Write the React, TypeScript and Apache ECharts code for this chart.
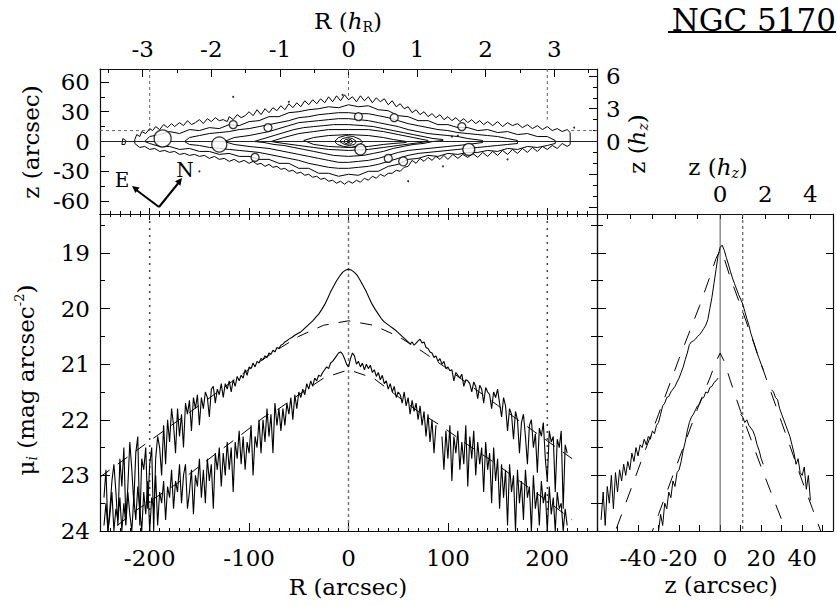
import React, { useEffect, useRef } from "react";
import * as echarts from "echarts";

const FONT = '"DejaVu Serif", serif';
const hR = 69; // arcsec per radial scale length
const hZ = 11; // arcsec per vertical scale height

// ---- tick labels ----
const rTickLabels = [-200, -100, 0, 100, 200];
const hrTickLabels = [-3, -2, -1, 0, 1, 2, 3];
const hrMinorTicks = [-3.5, -2.5, -1.5, -0.5, 0.5, 1.5, 2.5, 3.5];
const zTopLabels = [-60, -30, 0, 30, 60];
const zTopMinor = [-45, -15, 15, 45];
const hzRightMajor = [-6, -3, 0, 3, 6];
const hzRightLabels = [0, 3, 6];
const hzRightMinor = [-5, -4, -2, -1, 1, 2, 4, 5];
const muTickLabels = [19, 20, 21, 22, 23, 24];
const muHalfTicks = [18.5, 19.5, 20.5, 21.5, 22.5, 23.5];
const muAllTicks = [18.5, 19, 19.5, 20, 20.5, 21, 21.5, 22, 22.5, 23, 23.5, 24];
const zArcLabels = [-40, -20, 0, 20, 40];
const zArcTicks = [-50, -40, -30, -20, -10, 0, 10, 20, 30, 40, 50];
const hzBottomLabels = [0, 2, 4];
const hzBottomTicks = [-5, -4, -3, -2, -1, 0, 1, 2, 3, 4, 5];

// ---- radial profiles (mu_i vs R) ----
const upperLeftR0 = -246; // step 2
const upperLeft = [
  23.4, 22.9, 24.0, 23.6, 23.1, 22.8, 23.3, 23.9, 22.7, 23.2,
  22.5, 23.8, 23.2, 22.4, 22.9, 23.5, 22.6, 22.3, 23.9, 22.7,
  22.9, 22.5, 23.6, 22.8, 22.5, 24.0, 22.7, 22.3, 22.5, 23.0,
  22.1, 22.8, 22.0, 22.4, 21.8, 22.1, 22.6, 21.8, 22.3, 21.9,
  22.5, 21.7, 21.9, 21.65, 22.2, 21.6, 21.8, 21.55, 22.1, 21.6,
  21.8, 21.5, 21.6, 21.95, 21.45, 21.4, 21.7, 21.45, 21.55, 21.35,
  21.6, 21.35, 21.45, 21.3, 21.5, 21.28, 21.4, 21.22, 21.3, 21.2,
  21.25, 21.1, 21.2, 21.05, 21.08, 20.98, 21.05, 20.95, 20.98, 20.9,
  20.92, 20.85, 20.88, 20.8, 20.82, 20.75, 20.78, 20.7, 20.72, 20.66,
  20.64, 20.6, 20.58,
];
const upperMidR0 = -60; // step 3
const upperMid = [
  20.55, 20.52, 20.48, 20.45, 20.42, 20.37, 20.32, 20.27, 20.22, 20.16,
  20.1, 20.02, 19.93, 19.82, 19.7, 19.6, 19.5, 19.42, 19.35, 19.31,
  19.29, 19.31, 19.35, 19.41, 19.5, 19.6, 19.7, 19.82, 19.93, 20.02,
  20.1, 20.18, 20.24, 20.28, 20.32, 20.36, 20.4, 20.45, 20.5, 20.55,
  20.6,
];
const upperRightR0 = 62; // step 2
const upperRight = [
  20.64, 20.6, 20.66, 20.62, 20.58, 20.55, 20.62, 20.6, 20.7, 20.72,
  20.78, 20.8, 20.88, 20.85, 20.95, 20.9, 21.0, 20.95, 21.08, 21.05,
  21.12, 21.1, 21.3, 21.15, 21.2, 21.25, 21.18, 21.4, 21.28, 21.3,
  21.35, 21.5, 21.32, 21.4, 21.62, 21.38, 21.45, 21.7, 21.42, 21.5,
  21.55, 21.8, 21.5, 21.6, 21.45, 21.7, 21.95, 21.6, 21.75, 22.2,
  21.8, 21.9, 22.35, 21.85, 22.0, 22.6, 22.05, 21.9, 22.3, 22.8,
  22.1, 22.0, 22.5, 22.25, 22.95, 22.15, 22.3, 22.05, 22.7, 23.1,
  22.2, 22.4, 22.3, 23.3, 22.35, 22.5, 22.2, 23.6, 22.45, 22.6,
];
const lowerR0 = -246; // step 2, "-" = no data
const lowerProfile: (number | string)[] = [
  23.9, 23.5, 24.0, 23.7, 23.3, 24.0, 23.6, 23.8, 23.4, 24.0,
  23.5, 23.9, 23.3, 23.7, 24.0, 23.4, 23.8, 23.2, 23.6, 24.0,
  23.3, 23.7, 23.1, 24.0, 23.4, 23.6, 23.0, 23.9, 23.3, 23.5,
  23.1, 23.8, 23.2, 23.4, 22.9, 23.6, 23.1, 23.3, 22.8, 23.5,
  23.0, 22.8, 23.6, 23.3, 22.9, 23.7, 23.0, 23.2, 22.7, 23.4,
  22.9, 23.5, 22.7, 23.1, 22.8, 23.6, 22.6, 22.9, 22.5, 23.2,
  22.6, 23.0, 22.4, 22.9, 22.5, 23.3, 22.4, 22.7, 22.2, 22.8,
  22.3, 22.9, 22.4, 22.6, 22.1, 23.0, 22.3, 22.5, 22.0, 22.6,
  22.0, 22.4, 21.8, 22.3, 21.9, 22.6, 21.7, 22.1, 21.8, 22.2,
  21.8, 22.1, 21.7, 21.9, 21.6, 22.0, 21.55, 21.8, 21.5, 21.6,
  21.45, 21.55, 21.35, 21.45, 21.3, 21.4, 21.25, 21.3, 21.2, 21.22,
  21.15, 21.1, 21.05, 21.08, 20.98, 20.95, 20.9, 20.85, 20.8, 20.78,
  20.82, 20.9, 21.0, 21.05, 20.9, 20.8, 20.85, 21.0, 20.95, 21.05,
  20.98, 21.1, 21.0, 21.08, 21.02, 21.15, 21.1, 21.22, 21.15, 21.28,
  21.2, 21.35, 21.3, 21.45, 21.35, 21.5, 21.4, 21.6, 21.5, 21.55,
  21.7, 21.5, 21.75, 21.6, 21.9, 21.65, 21.85, 21.7, 22.0, 21.75,
  22.1, 21.85, 22.3, 21.9, 22.4, 22.0, 22.6, 22.1, "-", "-",
  22.3, 22.9, 22.2, 22.7, 22.1, 23.1, 22.3, 22.6, 22.2, 22.9,
  22.4, 22.8, 22.1, 23.2, 22.3, 22.7, 22.2, 23.0, 22.4, 22.8,
  22.5, 23.3, 22.4, 22.9, 22.6, 23.5, 22.5, 23.1, 22.7, 23.6,
  22.8, 23.4, 22.9, 23.9, 22.8, 23.3, 23.0, 24.0, 22.9, 23.5,
  23.1, 23.8, 22.9, 23.4, 23.2, 24.0, 23.0, 23.6, 23.3, 23.9,
  23.1, 23.5, 23.3, 24.0, 23.2, 23.7, 23.4, 24.0, 23.3, 23.6,
  23.5, 24.0, 23.6, 23.9,
];
const upperFitR = [-250, -200, -150, -100, -75, -50, -25, 0, 25, 50, 75, 100, 150, 200, 225];
const upperFitMu = [23.03, 22.38, 21.74, 21.09, 20.78, 20.5, 20.3, 20.22, 20.3, 20.5, 20.78, 21.09, 21.74, 22.38, 22.7];
const lowerFitR = [-250, -213, -172, -135, -108, -85, -70, -50, -25, 0, 25, 45, 70, 94, 120, 146, 172, 197, 225];
const lowerFitMu = [24.15, 23.62, 23.14, 22.63, 22.27, 21.95, 21.8, 21.55, 21.25, 21.1, 21.25, 21.52, 21.85, 22.12, 22.45, 22.76, 23.1, 23.42, 23.8];

// ---- vertical profiles (mu_i vs z) ----
const vUpperZ0 = -58; // step 1
const vUpper: (number | string)[] = [
  23.8, 23.3, 23.9, 23.2, 23.5, 23.0, 23.6, 22.95, 23.3, 22.9,
  23.1, 22.8, 23.0, 22.75, 22.9, 22.6, 22.75, 22.5, 22.65, 22.45,
  22.5, 22.35, 22.45, 22.3, 22.35, 22.2, 22.25, 22.1, 22.05, 21.9,
  21.75, 21.7, 21.6, 21.58, 21.5, 21.45, 21.4, 21.32, 21.25, 21.15,
  21.05, 20.92, 20.8, 20.65, 20.6, 20.58, 20.55, 20.5, 20.47, 20.42,
  20.36, 20.3, 20.2, 20.0, 19.8, 19.55, 19.3, 19.05, 18.9, 18.86,
  18.95, 19.08, 19.2, 19.33, 19.45, 19.55, 19.65, 19.75, 19.83, 19.92,
  20.05, 20.18, 20.3, 20.45, 20.56, 20.68, 20.8, 20.9, 21.0, 21.1,
  "-", "-", "-", 21.46, 21.5, 21.6, 21.64, 21.8, 21.9, 22.0,
  22.1, 22.2, 22.3, 22.45, 22.6, 22.8, 22.7, 22.95, 23.0, 22.85,
  23.25, 23.0, 23.45,
];
const vLowerLeftZ0 = -30; // step 1
const vLowerLeft = [
  24.0, 23.7, 23.9, 23.5, 23.6, 23.3, 23.4, 23.1, 23.2, 22.95,
  22.9, 22.75, 22.55, 22.4, 22.2, 22.05, 21.95, 21.9, 21.82, 21.75,
  21.72, 21.62, 21.6, 21.5, 21.52, 21.42, 21.4, 21.33, 21.3, 21.25,
];
const vLowerRightZ0 = 10; // step 1
const vLowerRight = [21.9, 21.95, 22.05, 22.0, 22.1, 22.15, 22.2, 22.3, 22.45, 22.55, 22.7, 22.8];
const vUpperFitZ = [-60, -50, -40, -30, -20, -10, -5, -2, 0, 2, 5, 10, 20, 30, 40, 45, 52];
const vUpperFitMu = [24.9, 23.9, 22.9, 21.9, 20.9, 19.95, 19.43, 19.1, 18.95, 19.1, 19.45, 19.95, 21.0, 22.05, 23.1, 23.6, 24.3];
const vLowerFitZ = [-35, -30, -20, -10, -5, -2, 0, 2, 5, 10, 20, 30, 35];
const vLowerFitMu = [24.2, 23.7, 22.7, 21.7, 21.25, 20.95, 20.8, 20.95, 21.3, 21.85, 22.85, 23.8, 24.3];

// ---- isophote contours (R, z in arcsec) ----
const c1Upper = [
  [-215, 2], [-213, 7], [-210, 5], [-208, 10], [-204, 8], [-200, 13], [-197, 11], [-194, 15], [-190, 12], [-186, 17], [-182, 14], [-178, 18], [-175, 15],
  [-170, 19], [-166, 16], [-162, 21], [-158, 17], [-154, 19], [-150, 22], [-146, 18], [-142, 23], [-138, 20], [-134, 24], [-130, 21], [-126, 22], [-122, 20],
  [-120, 25], [-116, 22], [-112, 27], [-108, 24], [-104, 26], [-100, 30], [-96, 26], [-92, 32], [-88, 27], [-84, 33], [-80, 29],
  [-76, 34], [-72, 31], [-68, 36], [-64, 32], [-60, 38], [-56, 34], [-52, 39], [-48, 35], [-44, 41], [-40, 37],
  [-36, 42], [-32, 38], [-28, 43], [-24, 39], [-20, 45], [-16, 40], [-12, 46], [-8, 41], [-4, 47], [0, 42],
  [4, 45], [8, 40], [12, 46], [16, 41], [20, 45], [24, 39], [28, 44], [32, 40], [36, 43], [40, 37],
  [44, 41], [48, 35], [52, 38], [56, 33], [60, 35], [64, 29], [68, 32], [72, 27], [76, 30], [80, 25],
  [84, 28], [88, 24], [92, 27], [96, 22], [100, 25], [104, 21], [108, 24], [112, 20], [116, 23], [120, 19],
  [124, 22], [128, 18], [132, 21], [136, 17], [140, 20], [145, 16], [150, 20], [155, 15], [160, 19], [165, 16],
  [170, 18], [175, 14], [180, 17], [185, 13], [190, 16], [195, 12], [200, 15], [205, 11], [210, 13], [215, 10],
  [220, 12], [223, 9],
];
const c1Lower = [
  [223, -3], [220, -5], [215, -2], [210, -7], [205, -4], [200, -8], [195, -5], [190, -10], [185, -6], [180, -11],
  [175, -7], [170, -12], [165, -8], [160, -13], [155, -9], [150, -14], [145, -10], [140, -15], [135, -11], [130, -16],
  [125, -12], [120, -16], [115, -13], [110, -17], [105, -13], [100, -18], [96, -14], [92, -18], [88, -15], [84, -19],
  [80, -16], [76, -20], [72, -17], [68, -22], [64, -19], [60, -25], [56, -26], [52, -30], [48, -29], [44, -32],
  [40, -32], [36, -35], [32, -33], [28, -37], [24, -35], [20, -39], [16, -37], [12, -41], [8, -39], [4, -42],
  [0, -40], [-4, -43], [-8, -40], [-12, -42], [-16, -39], [-20, -40], [-24, -37], [-28, -38], [-32, -35], [-36, -36],
  [-40, -33], [-44, -34], [-48, -31], [-52, -32], [-56, -29], [-60, -30], [-64, -27], [-68, -28], [-72, -25], [-76, -26],
  [-80, -23], [-84, -25], [-88, -22], [-92, -23], [-96, -20], [-100, -22], [-105, -19], [-110, -21], [-115, -18], [-120, -20],
  [-125, -17], [-130, -18], [-135, -15], [-140, -17], [-145, -14], [-150, -15], [-155, -13], [-160, -14], [-165, -12], [-170, -13],
  [-175, -10], [-180, -11], [-185, -9], [-190, -10], [-195, -7], [-200, -8], [-205, -5], [-210, -6], [-215, -2],
];
const c2Upper = [
  [-205, 0], [-200, 5], [-190, 7], [-180, 10], [-170, 8], [-160, 12], [-150, 11], [-140, 14], [-130, 13], [-120, 17],
  [-110, 16], [-100, 20], [-90, 21], [-80, 25], [-70, 25], [-60, 29], [-50, 30], [-40, 32], [-30, 33], [-20, 35],
  [-10, 34], [0, 37], [10, 35], [20, 36], [30, 32], [40, 31], [50, 26], [60, 25], [70, 21], [80, 21],
  [90, 17], [100, 17], [110, 14], [120, 14], [130, 11], [140, 12], [150, 9], [160, 10], [170, 7], [180, 8],
  [190, 5], [200, 5], [208, 1],
];
const c2Lower = [
  [208, -2], [200, -4], [190, -6], [180, -5], [170, -8], [160, -7], [150, -10], [140, -9], [130, -11], [120, -11],
  [110, -13], [100, -12], [90, -15], [80, -14], [70, -17], [60, -18], [50, -23], [40, -25], [30, -30], [20, -30],
  [10, -34], [0, -33], [-10, -35], [-20, -32], [-30, -32], [-40, -27], [-50, -27], [-60, -22], [-70, -22], [-80, -18],
  [-90, -18], [-100, -15], [-110, -15], [-120, -12], [-130, -13], [-140, -10], [-150, -10], [-160, -7], [-170, -8], [-180, -5],
  [-190, -5], [-200, -2],
];
const c3Upper = [
  [-165, 0], [-160, 4], [-150, 6], [-140, 8], [-130, 9], [-120, 10], [-110, 12], [-100, 13], [-90, 15], [-80, 17],
  [-70, 19], [-60, 21], [-50, 24], [-40, 25], [-30, 27], [-20, 28], [-10, 29], [0, 29], [10, 28], [20, 28],
  [30, 26], [40, 24], [50, 21], [60, 18], [70, 16], [80, 14], [90, 12], [100, 11], [110, 9], [120, 8],
  [130, 7], [140, 6], [150, 5], [160, 3], [170, 1],
];
const c3Lower = [
  [170, -2], [160, -3], [150, -4], [140, -5], [130, -6], [120, -7], [110, -8], [100, -9], [90, -10], [80, -11],
  [70, -12], [60, -14], [50, -17], [40, -20], [30, -23], [20, -25], [10, -26], [0, -27], [-10, -27], [-20, -26],
  [-30, -24], [-40, -22], [-50, -19], [-60, -17], [-70, -15], [-80, -13], [-90, -11], [-100, -10], [-110, -9], [-120, -8],
  [-130, -7], [-140, -6], [-150, -4], [-160, -3],
];
const c4Upper = [
  [-125, 0], [-115, 4], [-100, 6], [-90, 8], [-80, 10], [-70, 13], [-60, 16], [-50, 19], [-40, 20], [-30, 21],
  [-20, 22], [-10, 23], [0, 23], [10, 22], [20, 21], [30, 19], [40, 17], [50, 15], [60, 12], [70, 10],
  [80, 8], [90, 7], [100, 6], [110, 5], [120, 3], [135, 1],
];
const c4Lower = [
  [135, -1], [120, -3], [110, -4], [100, -5], [90, -6], [80, -7], [70, -8], [60, -9], [50, -11], [40, -14],
  [30, -17], [20, -19], [10, -20], [0, -21], [-10, -21], [-20, -19], [-30, -17], [-40, -15], [-50, -13], [-60, -11],
  [-70, -9], [-80, -7], [-90, -6], [-100, -5], [-115, -3],
];
const c5Upper = [
  [-95, 0], [-85, 3], [-75, 6], [-65, 9], [-55, 12], [-45, 14], [-35, 15], [-25, 16], [-15, 17], [0, 17],
  [15, 16], [25, 15], [35, 13], [45, 11], [55, 9], [65, 7], [75, 5], [85, 3], [95, 2],
];
const c5Lower = [
  [95, 1], [85, 0], [75, -2], [65, -3], [55, -5], [45, -7], [35, -10], [25, -12], [15, -14], [0, -15],
  [-15, -14], [-25, -12], [-35, -10], [-45, -8], [-55, -6], [-65, -4], [-75, -3], [-85, -1],
];
const c6Upper = [[-78, 0], [-65, 4], [-50, 8], [-35, 10], [-20, 12], [0, 12], [20, 12], [35, 10], [50, 7], [65, 4], [80, 1]];
const c6Lower = [[80, 0], [65, -2], [50, -4], [35, -6], [20, -8], [0, -9], [-20, -8], [-35, -6], [-50, -4], [-65, -2]];
const c7Upper = [[-45, 1], [-35, 4], [-20, 6], [0, 7], [20, 6], [35, 4], [45, 2], [58, 0]];
const c7Lower = [[58, -1], [45, -2], [35, -3], [20, -5], [0, -6], [-20, -5], [-35, -3]];
const c8Ring = [[-14, 0], [-10, 4], [-3, 6], [5, 5], [12, 2], [14, -1], [10, -4], [3, -6], [-5, -5], [-11, -3]];
const c9Ring = [[-9, 0], [-6, 3], [-1, 4], [4, 3], [8, 0], [6, -3], [1, -4], [-4, -3]];
const c10Ring = [[-5, 0], [-3, 2], [0, 2.5], [3, 1.5], [4, -1], [2, -2.5], [-1, -2.5], [-4, -1.5]];
const c11Ring = [[-2, 0], [-1, 1], [1, 1], [2, 0], [1, -1], [-1, -1]];
const blobLeft = [[-228, -3], [-227, 3], [-224, 1], [-225, -3]];

// masked stars: R, z, radius (arcsec)
const maskedStars = [
  [-187, 3, 8.5], [-130, -3, 7.5], [-116, 17, 4], [-81, 14, 4], [-94, -16, 4], [10, 25, 4],
  [46, 24, 4], [12, -8, 5.5], [40, -17, 4], [55, -20, 4.5], [114, 15, 4], [121, -8, 6],
];
const specks = [[-116, 45], [-6, 47], [227, 14], [-150, -30], [60, -40], [104, 5], [110, 6], [95, -25], [160, -18], [-60, 40]];

// ---------------------------------------------------------------
const seg = (r0: number, step: number, vals: (number | string)[]) => vals.map((v, i) => [r0 + i * step, v]);
const pairs = (xs: number[], ys: number[]) => xs.map((x, i) => [x, ys[i]]);
const closed = (pts: number[][]) => [...pts, pts[0]];

const BLK = "#000";
const tk = { color: BLK, width: 1 };
const frame = { show: true, onZero: false, lineStyle: { color: "#111", width: 1.2 } };
const noLine = { show: false, onZero: false };
const lbl = { fontFamily: FONT, fontSize: 23, color: BLK };
const rich = {
  n: { fontFamily: FONT, fontSize: 23, fill: BLK, color: BLK, lineHeight: 26 },
  i: { fontFamily: FONT, fontSize: 23, fontStyle: "italic", fill: BLK, color: BLK, lineHeight: 26 },
  sub: { fontFamily: FONT, fontSize: 14, fill: BLK, color: BLK, lineHeight: 14, verticalAlign: "bottom" },
  subi: { fontFamily: FONT, fontSize: 14, fontStyle: "italic", fill: BLK, color: BLK, lineHeight: 14, verticalAlign: "bottom" },
  sup: { fontFamily: FONT, fontSize: 13, fill: BLK, color: BLK, lineHeight: 14, verticalAlign: "top" },
};

function ax(o: any) {
  return { type: "value", splitLine: { show: false }, axisLabel: { show: false }, axisLine: noLine, ...o };
}
function ticks(length: number, customValues?: number[]) {
  const t: any = { show: true, inside: true, length, lineStyle: tk };
  if (customValues) t.customValues = customValues;
  return t;
}
// axis title as rich text at a pixel anchor
function title(text: string, x: number, y: number, rotation = 0) {
  return {
    type: "text", x, y, rotation, silent: true,
    style: { text, rich, fontFamily: FONT, fontSize: 23, fill: BLK, align: "center", verticalAlign: "middle", textAlign: "center", textVerticalAlign: "middle" },
  };
}

function buildOption() {
  const xAxis = [
    ax({ gridIndex: 0, position: "bottom", min: -250, max: 250, interval: 10, axisLine: frame, axisTick: ticks(3) }),
    ax({ gridIndex: 0, position: "bottom", min: -250, max: 250, axisTick: ticks(6, rTickLabels) }),
    ax({
      gridIndex: 0, position: "top", min: -250, max: 250, axisLine: frame,
      axisTick: ticks(4, hrMinorTicks.map((v) => v * hR)),
      axisLabel: { show: true, ...lbl, margin: 9, customValues: hrTickLabels.map((v) => v * hR), formatter: (v: number) => String(Math.round(v / hR)) },
    }),
    ax({ gridIndex: 0, position: "top", min: -250, max: 250, axisTick: ticks(8, hrTickLabels.map((v) => v * hR)) }),
    ax({ gridIndex: 1, position: "bottom", min: -250, max: 250, interval: 10, axisLine: frame, axisTick: ticks(3) }),
    ax({
      gridIndex: 1, position: "bottom", min: -250, max: 250, axisTick: ticks(8, rTickLabels),
      axisLabel: { show: true, ...lbl, margin: 15, customValues: rTickLabels, formatter: (v: number) => String(v) },
    }),
    ax({ gridIndex: 1, position: "top", min: -250, max: 250, interval: 10, axisLine: frame, axisTick: ticks(3) }),
    ax({ gridIndex: 1, position: "top", min: -250, max: 250, axisTick: ticks(6, rTickLabels) }),
    ax({
      gridIndex: 2, position: "bottom", min: -60, max: 55, axisLine: frame, axisTick: ticks(6, zArcTicks),
      axisLabel: { show: true, ...lbl, margin: 15, customValues: zArcLabels, formatter: (v: number) => String(v) },
    }),
    ax({
      gridIndex: 2, position: "top", min: -60, max: 55, axisLine: frame, axisTick: ticks(5, hzBottomTicks.map((v) => v * hZ)),
      axisLabel: { show: true, ...lbl, margin: 9, customValues: hzBottomLabels.map((v) => v * hZ), formatter: (v: number) => String(Math.round(v / hZ)) },
    }),
  ];
  const muRange = { min: 18.3, max: 24, inverse: true };
  const yAxis = [
    ax({
      gridIndex: 0, position: "left", min: -73, max: 73, axisLine: frame, axisTick: ticks(9, zTopLabels),
      axisLabel: { show: true, ...lbl, margin: 10, customValues: zTopLabels, formatter: (v: number) => String(v) },
    }),
    ax({ gridIndex: 0, position: "left", min: -73, max: 73, axisTick: ticks(5, zTopMinor) }),
    ax({
      gridIndex: 0, position: "right", min: -73, max: 73, axisLine: frame, axisTick: ticks(8, hzRightMajor.map((v) => v * hZ)),
      axisLabel: { show: true, ...lbl, margin: 9, customValues: hzRightLabels.map((v) => v * hZ), formatter: (v: number) => String(Math.round(v / hZ)) },
    }),
    ax({ gridIndex: 0, position: "right", min: -73, max: 73, axisTick: ticks(4, hzRightMinor.map((v) => v * hZ)) }),
    ax({
      gridIndex: 1, position: "left", ...muRange, axisLine: frame, axisTick: ticks(10, muTickLabels),
      axisLabel: { show: true, ...lbl, margin: 10, customValues: muTickLabels, formatter: (v: number) => String(v) },
    }),
    ax({ gridIndex: 1, position: "left", ...muRange, axisTick: ticks(5, muHalfTicks) }),
    ax({ gridIndex: 1, position: "right", ...muRange, axisLine: frame, axisTick: ticks(6, muAllTicks) }),
    ax({ gridIndex: 2, position: "left", ...muRange, axisLine: frame, axisTick: ticks(9, muTickLabels) }),
    ax({ gridIndex: 2, position: "left", ...muRange, axisTick: ticks(6, muHalfTicks) }),
    ax({ gridIndex: 2, position: "right", ...muRange, axisLine: frame, axisTick: ticks(7, muTickLabels) }),
  ];

  const ln = (data: any[], xi: number, yi: number, style: any = {}, z = 2) => ({
    type: "line", xAxisIndex: xi, yAxisIndex: yi, data, symbol: "none", showSymbol: false,
    lineStyle: { color: BLK, width: 1, ...style }, silent: true, z, connectNulls: false,
  });
  const gray = "#666";
  const contourSets = [
    closed([...c1Upper, ...c1Lower]), closed([...c2Upper, ...c2Lower]), closed([...c3Upper, ...c3Lower]),
    closed([...c4Upper, ...c4Lower]), closed([...c5Upper, ...c5Lower]), closed([...c6Upper, ...c6Lower]),
    closed([...c7Upper, ...c7Lower]), closed(c8Ring), closed(c9Ring), closed(c10Ring), closed(c11Ring), closed(blobLeft),
  ];

  const series: any[] = [
    ...contourSets.map((d) => ln(d, 0, 0, { width: 1 }, 3)),
    ln([[-250, 0], [250, 0]], 0, 0, { width: 1, color: "#222" }, 4),
    {
      type: "scatter", xAxisIndex: 0, yAxisIndex: 0, data: maskedStars, symbol: "circle",
      symbolSize: (v: number[]) => v[2] * 2, itemStyle: { color: "#fff", borderColor: BLK, borderWidth: 1.3 }, z: 5, silent: true,
    },
    { type: "scatter", xAxisIndex: 0, yAxisIndex: 0, data: specks, symbol: "circle", symbolSize: 2, itemStyle: { color: BLK }, z: 5, silent: true },
    ln([[-200, 73], [-200, 11]], 0, 0, { color: gray, type: [3, 3] }),
    ln([[-250, 11], [-200, 11]], 0, 0, { color: gray, type: [3, 3] }),
    ln([[0, 73], [0, 42]], 0, 0, { color: gray, type: [3, 3] }),
    ln([[200, 73], [200, 22]], 0, 0, { color: gray, type: [3, 3] }),
    ln([[224, 11], [250, 11]], 0, 0, { color: gray, type: [3, 3] }),
    ln([[-200, 18.3], [-200, 24]], 4, 4, { color: "#444", type: [2, 5], width: 1.5 }, 1),
    ln([[200, 18.3], [200, 24]], 4, 4, { color: "#444", type: [2, 5], width: 1.5 }, 1),
    ln([[0, 18.3], [0, 24]], 4, 4, { color: "#777", type: [3, 3], width: 1.5 }, 1),
    ln(pairs(upperFitR, upperFitMu), 4, 4, { type: [12, 10] }),
    ln(pairs(lowerFitR, lowerFitMu), 4, 4, { type: [12, 10] }),
    ln([...seg(upperLeftR0, 2, upperLeft), ...seg(upperMidR0, 3, upperMid), ...seg(upperRightR0, 2, upperRight)], 4, 4, { width: 1.1 }),
    ln(seg(lowerR0, 2, lowerProfile), 4, 4, { width: 1.1 }),
    ln([[0, 18.3], [0, 24]], 8, 7, { color: "#555", width: 1 }, 1),
    ln([[hZ, 18.3], [hZ, 24]], 8, 7, { color: gray, type: [3, 3], width: 1.3 }, 1),
    ln(pairs(vUpperFitZ, vUpperFitMu), 8, 7, { type: [15, 13] }),
    ln(pairs(vLowerFitZ, vLowerFitMu), 8, 7, { type: [15, 13] }),
    ln(seg(vUpperZ0, 1, vUpper), 8, 7, { width: 1 }),
    ln(seg(vLowerLeftZ0, 1, vLowerLeft), 8, 7, { width: 1 }),
    ln(seg(vLowerRightZ0, 1, vLowerRight), 8, 7, { width: 1 }),
  ];

  const HALF_PI = Math.PI / 2;
  const graphic = [
    title("{n|R (}{i|h}{sub|R}{n|)}", 348, 21),
    title("{n|z (arcsec)}", 31, 142, HALF_PI),
    title("{n|z (}{i|h}{subi|z}{n|)}", 637, 144, HALF_PI),
    title("{n|μ}{subi|i}{n| (mag arcsec}{sup|-2}{n|)}", 26, 380, HALF_PI),
    title("{n|R (arcsec)}", 348, 587),
    title("{n|z (arcsec)}", 721, 585),
    title("{n|z (}{i|h}{subi|z}{n|)}", 718, 167),
    { type: "text", x: 836, y: 4, style: { text: "NGC 5170", font: `31px ${FONT}`, fill: BLK, align: "right", textAlign: "right", verticalAlign: "top", textVerticalAlign: "top" } },
    { type: "line", shape: { x1: 668, y1: 32, x2: 836, y2: 32 }, style: { stroke: BLK, lineWidth: 2 } },
    { type: "line", shape: { x1: 159, y1: 207, x2: 135, y2: 189 }, style: { stroke: BLK, lineWidth: 2 } },
    { type: "polygon", shape: { points: [[132, 186], [139.6, 187.5], [135.4, 193.1]] }, style: { fill: BLK } },
    { type: "line", shape: { x1: 159, y1: 207, x2: 180, y2: 181 }, style: { stroke: BLK, lineWidth: 2 } },
    { type: "polygon", shape: { points: [[182, 178], [180.4, 185.7], [175.0, 181.3]] }, style: { fill: BLK } },
    { type: "text", x: 122, y: 180, style: { text: "E", font: `20px ${FONT}`, fill: BLK, align: "center", textAlign: "center", verticalAlign: "middle", textVerticalAlign: "middle" } },
    { type: "text", x: 185, y: 170, style: { text: "N", font: `20px ${FONT}`, fill: BLK, align: "center", textAlign: "center", verticalAlign: "middle", textVerticalAlign: "middle" } },
  ];

  return {
    animation: false,
    backgroundColor: "#fff",
    textStyle: { fontFamily: FONT },
    grid: [
      { left: 100, top: 69, width: 497, height: 145 },
      { left: 100, top: 214, width: 497, height: 317 },
      { left: 597, top: 214, width: 236, height: 317 },
    ],
    xAxis,
    yAxis,
    series,
    graphic,
  };
}

export default function App() {
  const ref = useRef<HTMLDivElement>(null);
  useEffect(() => {
    if (!ref.current) return;
    const chart = echarts.init(ref.current, undefined, { renderer: "svg" });
    chart.setOption(buildOption() as any);
    return () => chart.dispose();
  }, []);
  return <div ref={ref} style={{ position: "absolute", left: 0, top: 0, width: 837, height: 606, background: "#fff" }} />;
}
